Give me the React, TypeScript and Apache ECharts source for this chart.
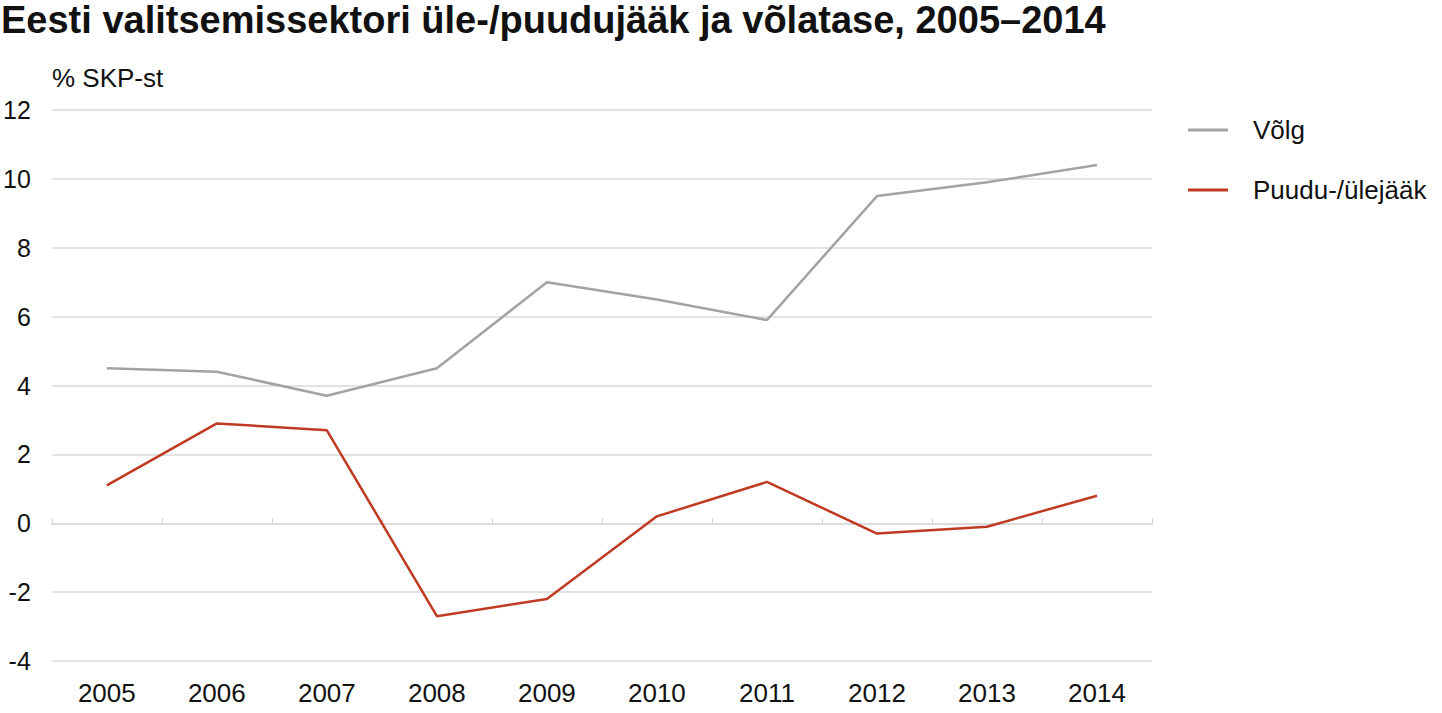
import { useEffect, useRef } from 'react';
import * as echarts from 'echarts';

const years = ['2005', '2006', '2007', '2008', '2009', '2010', '2011', '2012', '2013', '2014'];
const debt = [4.5, 4.4, 3.7, 4.5, 7.0, 6.5, 5.9, 9.5, 9.9, 10.4];
const balance = [1.1, 2.9, 2.7, -2.7, -2.2, 0.2, 1.2, -0.3, -0.1, 0.8];

const FONT = '"Liberation Sans", Arial, sans-serif';

export default function App() {
  const chartRef = useRef<HTMLDivElement>(null);

  useEffect(() => {
    if (!chartRef.current) return;
    const chart = echarts.init(chartRef.current, undefined, { renderer: 'svg' });

    const option: echarts.EChartsOption = {
      animation: false,
      backgroundColor: '#ffffff',
      textStyle: { fontFamily: FONT },
      title: {
        text: 'Eesti valitsemissektori üle-/puudujääk ja võlatase, 2005–2014',
        left: 1,
        top: 0,
        padding: 0,
        textStyle: { fontFamily: FONT, fontSize: 38, fontWeight: 'bold', color: '#111', lineHeight: 40 },
      },
      graphic: [
        {
          type: 'text',
          left: 52,
          top: 65,
          style: { text: '% SKP-st', font: `26px ${FONT}`, fill: '#111' },
        },
      ],
      legend: {
        orient: 'vertical',
        left: 1183,
        top: 110,
        itemWidth: 40,
        itemHeight: 3,
        itemGap: 30,
        icon: 'rect',
        textStyle: { fontFamily: FONT, fontSize: 26, color: '#111', lineHeight: 30, padding: [0, 0, 0, 20] },
        data: ['Võlg', 'Puudu-/ülejääk'],
      },
      grid: { left: 51, right: 290, top: 110, bottom: 52 },
      xAxis: [
        {
          type: 'category',
          data: years,
          boundaryGap: true,
          axisLine: { onZero: true, lineStyle: { color: '#dcdcdc', width: 2 } },
          axisTick: { show: true, inside: true, length: 5, lineStyle: { color: '#d0d0d0', width: 1 } },
          axisLabel: { show: false },
        },
        {
          type: 'category',
          data: years,
          position: 'bottom',
          boundaryGap: true,
          axisLine: { show: false },
          axisTick: { show: false },
          axisLabel: { fontFamily: FONT, fontSize: 26, color: '#111', margin: 19 },
        },
      ],
      yAxis: {
        type: 'value',
        min: -4,
        max: 12,
        interval: 2,
        axisLine: { show: false },
        axisTick: { show: false },
        axisLabel: { fontFamily: FONT, fontSize: 25, color: '#111', margin: 21 },
        splitLine: { lineStyle: { color: '#e3e3e3', width: 2 } },
      },
      series: [
        {
          name: 'Võlg',
          type: 'line',
          data: debt,
          xAxisIndex: 0,
          symbol: 'none',
          itemStyle: { color: '#a3a3a3' },
          lineStyle: { color: '#a3a3a3', width: 2.5 },
        },
        {
          name: 'Puudu-/ülejääk',
          type: 'line',
          data: balance,
          xAxisIndex: 0,
          symbol: 'none',
          itemStyle: { color: '#c03a22' },
          lineStyle: { color: '#c03a22', width: 2.5 },
        },
      ],
    };

    chart.setOption(option);
    return () => chart.dispose();
  }, []);

  return (
    <div
      ref={chartRef}
      style={{ position: 'absolute', left: 0, top: 0, width: 1442, height: 713 }}
    />
  );
}
